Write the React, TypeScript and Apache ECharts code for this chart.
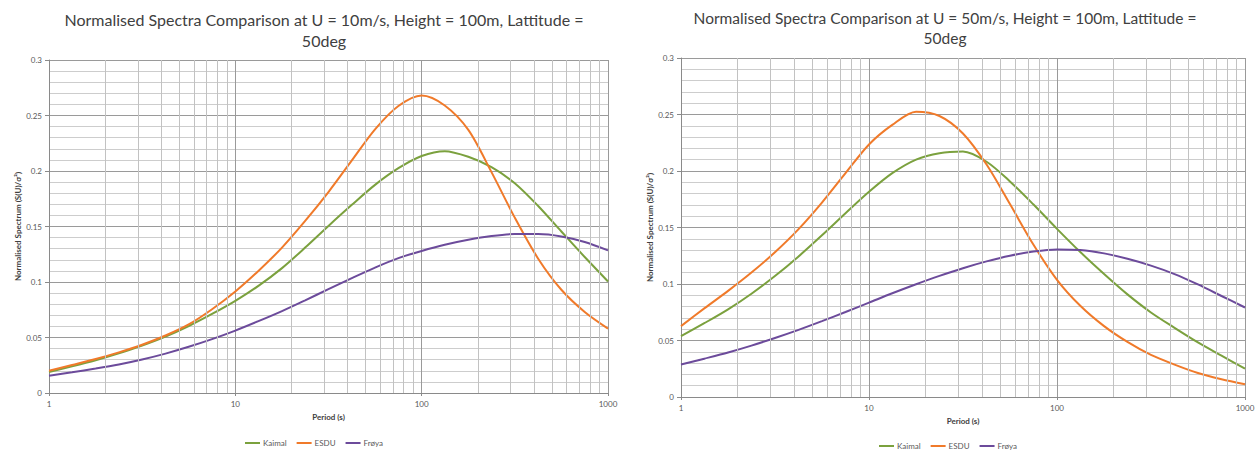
import React, { useEffect, useRef } from "react";
import * as echarts from "echarts";

// Periods (s), evenly spaced on the log axis (8 per decade)
const periods = [1, 1.33, 1.78, 2.37, 3.16, 4.22, 5.62, 7.5, 10, 13.3, 17.8, 23.7, 31.6, 42.2, 56.2, 75, 100, 133, 178, 237, 316, 422, 562, 750, 1000];

// U = 10 m/s
const kaimal10 = [0.019, 0.024, 0.0295, 0.0357, 0.0427, 0.0508, 0.0603, 0.0712, 0.083, 0.0965, 0.1125, 0.131, 0.1505, 0.1695, 0.1875, 0.2025, 0.2135, 0.2178, 0.2128, 0.2035, 0.189, 0.1685, 0.1455, 0.1225, 0.1005];
const esdu10 = [0.020, 0.0252, 0.0306, 0.0366, 0.0435, 0.0518, 0.0618, 0.0755, 0.0915, 0.110, 0.131, 0.155, 0.181, 0.2095, 0.2375, 0.2585, 0.268, 0.259, 0.237, 0.199, 0.158, 0.121, 0.093, 0.073, 0.058];
const froya10 = [0.0155, 0.0186, 0.022, 0.0257, 0.0302, 0.0355, 0.0416, 0.0485, 0.0562, 0.0647, 0.0738, 0.0835, 0.0935, 0.1035, 0.113, 0.1215, 0.128, 0.1336, 0.1381, 0.1414, 0.1432, 0.1432, 0.141, 0.136, 0.1285];

// U = 50 m/s
const kaimal50 = [0.0538, 0.0653, 0.0776, 0.0914, 0.107, 0.1244, 0.1431, 0.1626, 0.1816, 0.1981, 0.2101, 0.2158, 0.2172, 0.2082, 0.1908, 0.1703, 0.1488, 0.1283, 0.1088, 0.0908, 0.0748, 0.0612, 0.0483, 0.0366, 0.0251];
const esdu50 = [0.0627, 0.0784, 0.0939, 0.1101, 0.1281, 0.1486, 0.1721, 0.1981, 0.2235, 0.2408, 0.2525, 0.2487, 0.2332, 0.2057, 0.1707, 0.1347, 0.1037, 0.0807, 0.0627, 0.0487, 0.0372, 0.0287, 0.0212, 0.0157, 0.0112];
const froya50 = [0.0287, 0.0339, 0.0394, 0.0455, 0.0522, 0.0594, 0.0671, 0.0752, 0.0835, 0.0918, 0.0998, 0.1072, 0.114, 0.120, 0.125, 0.1287, 0.1306, 0.1301, 0.1271, 0.1223, 0.1163, 0.1088, 0.0996, 0.0894, 0.0792];

const minorPeriods = [2, 3, 4, 5, 6, 7, 8, 9, 20, 30, 40, 50, 60, 70, 80, 90, 200, 300, 400, 500, 600, 700, 800, 900];

const seriesNames = ["Kaimal", "ESDU", "Frøya"];
const colors = ["#7BA13E", "#F07A2A", "#6C4B9B"];

const title1a = "Normalised Spectra Comparison at U = 10m/s, Height = 100m, Lattitude =";
const title2a = "Normalised Spectra Comparison at U = 50m/s, Height = 100m, Lattitude =";
const titleB = "50deg";
const yName = "Normalised Spectrum (S(U)/σ²)";
const xName = "Period (s)";

const pairs = (v: number[]) => periods.map((p, i) => [p, v[i]]);

const labelColor = "#595959";

function xAxisFor(gridIndex: number) {
  return {
    type: "log",
    logBase: 10,
    gridIndex,
    min: 1,
    max: 1000,
    name: xName,
    nameLocation: "middle",
    nameGap: 20,
    nameTextStyle: { fontFamily: "Lato", fontSize: 8, fontWeight: "bold", color: "#404040" },
    axisLine: { show: true, lineStyle: { color: "#8a8a8a", width: 1 } },
    axisTick: { show: true, length: 3, lineStyle: { color: "#8a8a8a" } },
    axisLabel: {
      fontFamily: "Lato",
      fontSize: 8,
      color: labelColor,
      margin: 7,
      formatter: (v: number) => String(Math.round(v)),
    },
    splitLine: { show: true, lineStyle: { color: "#9a9a9a", width: 1 } },
    minorTick: { show: false },
    minorSplitLine: { show: false },
  };
}

function yAxisFor(gridIndex: number) {
  return {
    type: "value",
    gridIndex,
    min: 0,
    max: 0.3,
    interval: 0.05,
    name: yName,
    nameLocation: "middle",
    nameRotate: 90,
    nameGap: 27,
    nameTextStyle: { fontFamily: "Lato", fontSize: 8, fontWeight: "bold", color: "#404040" },
    axisLine: { show: true, lineStyle: { color: "#8a8a8a", width: 1 } },
    axisTick: { show: true, length: 4, lineStyle: { color: "#8a8a8a" } },
    axisLabel: {
      fontFamily: "Lato",
      fontSize: 8,
      color: labelColor,
      margin: 7,
      formatter: (v: number) => String(+v.toFixed(2)),
    },
    splitLine: { show: true, lineStyle: { color: "#9a9a9a", width: 1 } },
    minorTick: { show: false, splitNumber: 5 },
    minorSplitLine: { show: true, lineStyle: { color: "#cdcdcd", width: 1 } },
  };
}

function curve(name: string, color: string, data: number[], idx: number) {
  return {
    type: "line",
    name,
    xAxisIndex: idx,
    yAxisIndex: idx,
    data: pairs(data),
    smooth: 0.3,
    showSymbol: false,
    symbol: "none",
    z: 3,
    lineStyle: { color, width: 2 },
    itemStyle: { color },
  };
}

function minorLines(idx: number) {
  return {
    type: "line",
    name: "minor" + idx,
    xAxisIndex: idx,
    yAxisIndex: idx,
    data: [],
    z: 1,
    silent: true,
    markLine: {
      silent: true,
      symbol: ["none", "none"],
      animation: false,
      label: { show: false },
      lineStyle: { color: "#c2c2c2", width: 1, type: "solid" },
      emphasis: { disabled: true },
      data: minorPeriods.map((p) => ({ xAxis: p })),
    },
  };
}

function titleText(x: number, y: number, text: string, size: number) {
  return {
    type: "text",
    x,
    y,
    style: {
      text,
      fill: "#404040",
      font: `${size}px Lato`,
      align: "center",
      verticalAlign: "middle",
      textAlign: "center",
      textVerticalAlign: "middle",
    },
  };
}

export default function App() {
  const ref = useRef<HTMLDivElement>(null);
  useEffect(() => {
    if (!ref.current) return;
    const chart = echarts.init(ref.current, undefined, { renderer: "svg" });
    const legendBase = {
      data: seriesNames,
      icon: "rect",
      itemWidth: 15,
      itemHeight: 2,
      itemGap: 10,
      selectedMode: false,
      textStyle: { fontFamily: "Lato", fontSize: 8, color: labelColor, padding: [0, 0, 0, -2] },
    };
    chart.setOption({
      animation: false,
      backgroundColor: "#ffffff",
      grid: [
        { left: 49, top: 60, width: 559, height: 333 },
        { left: 681, top: 58, width: 564, height: 339 },
      ],
      xAxis: [xAxisFor(0), xAxisFor(1)],
      yAxis: [yAxisFor(0), yAxisFor(1)],
      legend: [
        { ...legendBase, left: 240, top: 434 },
        { ...legendBase, left: 874, top: 437 },
      ],
      graphic: [
        titleText(324, 19, title1a, 16),
        titleText(324, 40, titleB, 16),
        titleText(945, 18, title2a, 15.5),
        titleText(945, 38, titleB, 15.5),
      ],
      series: [
        minorLines(0),
        minorLines(1),
        curve(seriesNames[0], colors[0], kaimal10, 0),
        curve(seriesNames[1], colors[1], esdu10, 0),
        curve(seriesNames[2], colors[2], froya10, 0),
        curve(seriesNames[0], colors[0], kaimal50, 1),
        curve(seriesNames[1], colors[1], esdu50, 1),
        curve(seriesNames[2], colors[2], froya50, 1),
      ],
    });
    return () => chart.dispose();
  }, []);
  return (
    <div
      ref={ref}
      style={{ position: "fixed", left: 0, top: 0, width: 1260, height: 453, background: "#fff" }}
    />
  );
}
